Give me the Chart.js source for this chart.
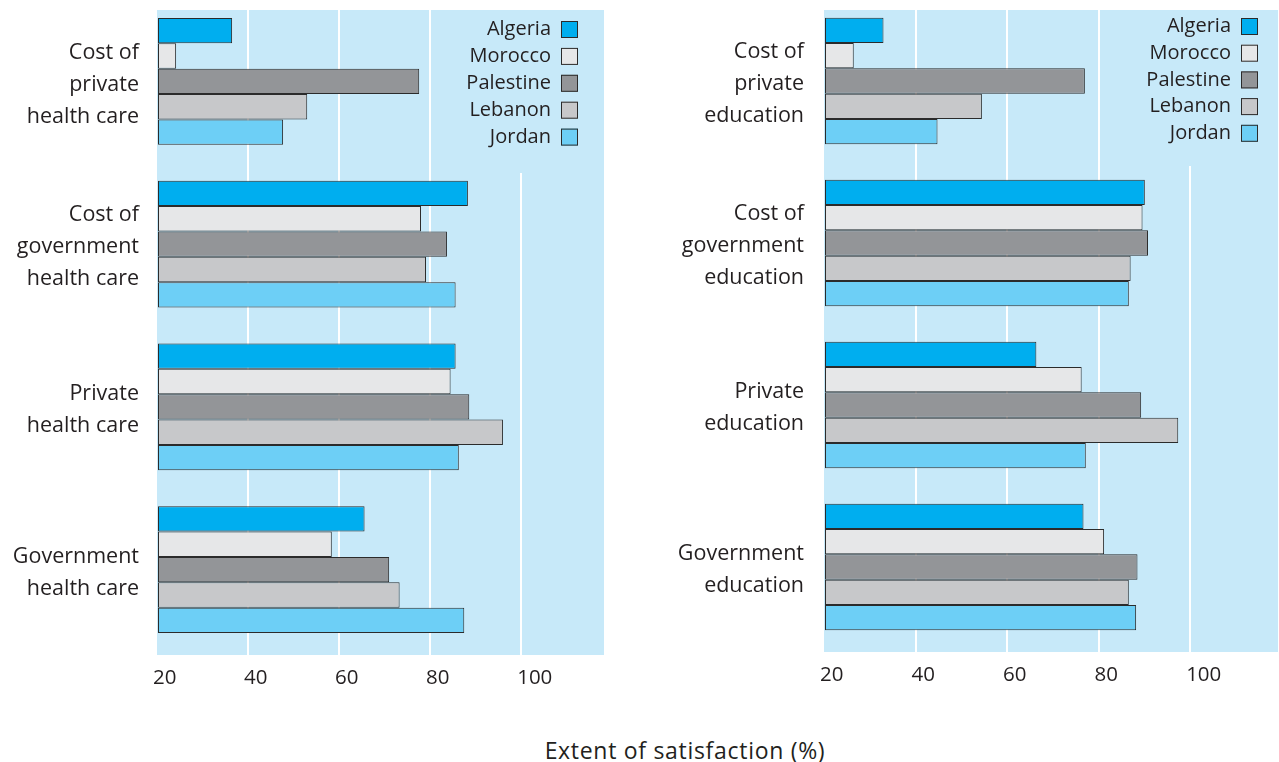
<!DOCTYPE html>
<html>
<head>
<meta charset="utf-8">
<script src="https://cdn.jsdelivr.net/npm/chart.js@4.4.0/dist/chart.umd.min.js"></script>
<style>
  html, body { margin: 0; padding: 0; background: #fff; }
  body { width: 1279px; height: 762px; position: relative; overflow: hidden; font-family: "Open Sans", sans-serif; }
  .wrap { position: absolute; top: 0; height: 700px; }
  #left-wrap { left: 0; width: 620px; }
  #right-wrap { left: 640px; width: 639px; }
  #x-title {
    position: absolute; left: 385px; width: 600px; top: 734px;
    text-align: center; font-size: 23px; letter-spacing: 0.7px; line-height: 32px; color: #231f20;
  }
</style>
</head>
<body>
<div class="wrap" id="left-wrap"><canvas id="chart-health"></canvas></div>
<div class="wrap" id="right-wrap"><canvas id="chart-education"></canvas></div>
<div id="x-title">Extent of satisfaction (%)</div>

<script>
/* ==========================================================
   DATA
   ==========================================================*/
const countries = ["Algeria", "Morocco", "Palestine", "Lebanon", "Jordan"];

const healthLabels = [
  ["Cost of", "private", "health care"],
  ["Cost of", "government", "health care"],
  ["Private", "health care"],
  ["Government", "health care"],
];
const educationLabels = [
  ["Cost of", "private", "education"],
  ["Cost of", "government", "education"],
  ["Private", "education"],
  ["Government", "education"],
];

const healthAlgeria = [36.5, 88.3, 85.6, 65.6];
const healthMorocco = [24.2, 78.0, 84.5, 58.4];
const healthPalestine = [77.6, 83.7, 88.6, 71.0];
const healthLebanon = [53.0, 79.1, 96.0, 73.3];
const healthJordan = [47.7, 85.6, 86.3, 87.5];

const eduAlgeria = [33.0, 90.1, 66.4, 76.7];
const eduMorocco = [26.5, 89.6, 76.3, 81.2];
const eduPalestine = [77.0, 90.8, 89.3, 88.5];
const eduLebanon = [54.5, 87.0, 97.4, 86.6];
const eduJordan = [44.8, 86.6, 77.2, 88.2];

const xTicks = [20, 40, 60, 80, 100];

/* ==========================================================
   STYLE
   ==========================================================*/
const FONT = "'Open Sans', sans-serif";
const TEXT = "#231f20";
const PLOT_BG = "#c7e9f9";
const EDGE = "#2b2b2b";
const countryColours = ["#00aeef", "#e6e7e8", "#939598", "#c7c8ca", "#6dcff6"];

/* ==========================================================
   PLUGINS
   ==========================================================*/
const plotBackground = {
  id: "plotBackground",
  beforeDraw(chart, args, opts) {
    const { ctx, chartArea } = chart;
    ctx.save();
    ctx.fillStyle = PLOT_BG;
    ctx.fillRect(
      chartArea.left,
      opts.top,
      chartArea.right - chartArea.left,
      chartArea.bottom + 4 - opts.top
    );
    ctx.restore();
  },
};

// legend sits inside the plot, text left of the swatch
const insideLegend = {
  id: "insideLegend",
  afterDatasetsDraw(chart, args, opts) {
    const { ctx, chartArea } = chart;
    const box = 17;
    ctx.save();
    // patch hides the gridline running behind the legend
    ctx.fillStyle = PLOT_BG;
    ctx.fillRect(chartArea.right - 150, opts.top, 150, opts.coverBottom - opts.top);

    ctx.font = `20px ${FONT}`;
    ctx.textAlign = "right";
    ctx.textBaseline = "middle";
    chart.data.datasets.forEach((ds, i) => {
      const y = opts.firstRow + i * opts.rowGap;
      const bx = chartArea.right - opts.rightGap - box;
      ctx.fillStyle = ds.backgroundColor;
      ctx.fillRect(bx, y - box / 2, box, box);
      ctx.strokeStyle = EDGE;
      ctx.lineWidth = 1;
      ctx.strokeRect(bx + 0.5, y - box / 2 + 0.5, box - 1, box - 1);
      ctx.fillStyle = TEXT;
      ctx.fillText(ds.label, bx - 10, y);
    });
    ctx.restore();
  },
};

/* ==========================================================
   CHART BUILDER
   ==========================================================*/
function makePanel(canvasId, labels, series, layout) {
  const datasets = series.map((values, i) => ({
    label: countries[i],
    data: values,
    base: 20,
    backgroundColor: countryColours[i],
    borderColor: EDGE,
    borderWidth: 1,
    borderSkipped: false,
    categoryPercentage: 0.78,
    barPercentage: 1,
    clip: false,
  }));

  return new Chart(document.getElementById(canvasId), {
    type: "bar",
    data: { labels, datasets },
    plugins: [plotBackground, insideLegend],
    options: {
      indexAxis: "y",
      responsive: true,
      maintainAspectRatio: false,
      animation: false,
      layout: { padding: { top: 0, left: 0, bottom: 0, right: layout.rightPad } },
      plugins: {
        legend: { display: false },
        tooltip: { enabled: false },
        plotBackground: { top: 10 },
        insideLegend: layout.legend,
      },
      scales: {
        x: {
          type: "linear",
          min: 20,
          max: layout.xMax,
          afterBuildTicks: (scale) => {
            scale.ticks = xTicks.map((v) => ({ value: v }));
          },
          grid: {
            color: (c) => (c.tick && c.tick.value === 20 ? "rgba(0,0,0,0)" : "#ffffff"),
            lineWidth: 2,
            drawTicks: true,
            tickLength: 4,
          },
          border: { display: false },
          ticks: {
            align: "start",
            labelOffset: -4,
            padding: 11,
            color: TEXT,
            font: { family: FONT, size: 20.5 },
          },
          afterFit: (scale) => {
            scale.height = layout.xAxisHeight;
            scale.paddingLeft = 0;
            scale.paddingRight = 0;
          },
        },
        y: {
          type: "category",
          grid: { display: false, drawTicks: false },
          border: { display: false },
          ticks: {
            padding: layout.labelPad,
            labelOffset: 3,
            color: TEXT,
            font: { family: FONT, size: 21.5, lineHeight: 32 / 21.5 },
          },
          afterFit: (scale) => {
            scale.width = layout.yAxisWidth;
            scale.paddingTop = 0;
            scale.paddingBottom = 0;
          },
        },
      },
    },
  });
}

/* ==========================================================
   RENDER
   ==========================================================*/
makePanel(
  "chart-health",
  healthLabels,
  [healthAlgeria, healthMorocco, healthPalestine, healthLebanon, healthJordan],
  {
    xMax: 118.2,
    rightPad: 16,
    yAxisWidth: 157,
    xAxisHeight: 49,
    labelPad: 18,
    legend: { top: 10, coverBottom: 173, firstRow: 29.5, rowGap: 26.9, rightGap: 26 },
  }
);

makePanel(
  "chart-education",
  educationLabels,
  [eduAlgeria, eduMorocco, eduPalestine, eduLebanon, eduJordan],
  {
    xMax: 119.2,
    rightPad: 1,
    yAxisWidth: 184,
    xAxisHeight: 52,
    labelPad: 20,
    legend: { top: 10, coverBottom: 166, firstRow: 26.5, rowGap: 26.7, rightGap: 20 },
  }
);
</script>
</body>
</html>
